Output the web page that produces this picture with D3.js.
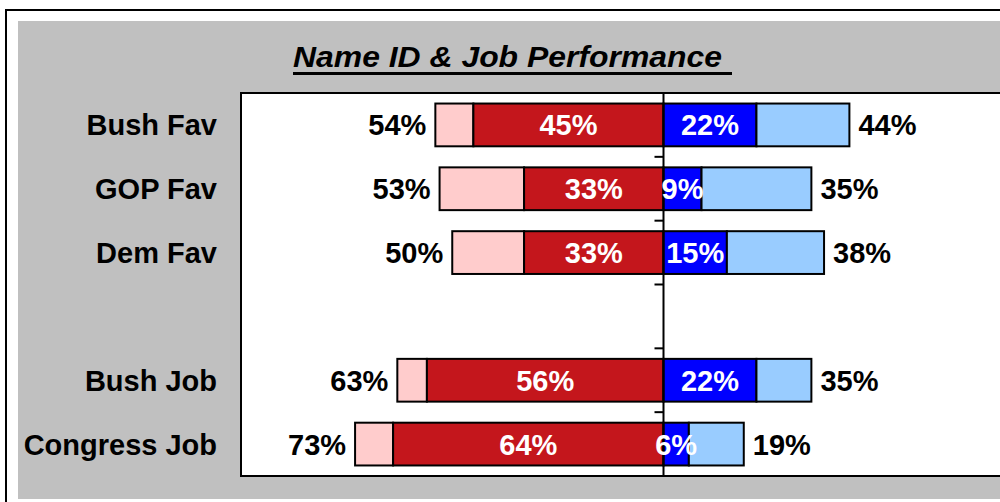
<!DOCTYPE html>
<html>
<head>
<meta charset="utf-8">
<script src="https://cdn.jsdelivr.net/npm/d3@7"></script>
<style>
  html, body { margin: 0; padding: 0; background: #ffffff; overflow: hidden; }
  svg { display: block; }
  text { font-family: "Liberation Sans", Arial, sans-serif; font-weight: bold; }
</style>
</head>
<body>
<svg id="chart" width="1000" height="502"></svg>
<script>
const title = "Name ID & Job Performance";
const categories = ["Bush Fav", "GOP Fav", "Dem Fav", "", "Bush Job", "Congress Job"];
const strongUnfav = [45, 33, 33, null, 56, 64];
const totalUnfav  = [54, 53, 50, null, 63, 73];
const strongFav   = [22, 9, 15, null, 22, 6];
const totalFav    = [44, 35, 38, null, 35, 19];

const rows = categories.map((c, i) => ({
  cat: c, sNeg: strongUnfav[i], tNeg: totalUnfav[i], sPos: strongFav[i], tPos: totalFav[i], key: "r" + i
}));

const svg = d3.select("#chart");
const colors = { lightRed: "#FFCCCC", darkRed: "#C4161C", blue: "#0000FF", lightBlue: "#99CCFF", gray: "#C0C0C0" };

// outer frame and gray panel
svg.append("rect").attr("x", 6).attr("y", 10).attr("width", 1100).attr("height", 600)
  .attr("fill", "#ffffff").attr("stroke", "#000").attr("stroke-width", 2);
svg.append("rect").attr("x", 18).attr("y", 21).attr("width", 1100).attr("height", 478)
  .attr("fill", colors.gray);

// title
svg.append("text").attr("x", 293).attr("y", 67)
  .attr("font-size", 29.5).attr("font-style", "italic")
  .attr("textLength", 429).attr("lengthAdjust", "spacingAndGlyphs")
  .attr("fill", "#000").text(title);
svg.append("line").attr("x1", 293).attr("x2", 732).attr("y1", 73.5).attr("y2", 73.5)
  .attr("stroke", "#000").attr("stroke-width", 3);

// scales
const plot = { left: 241, right: 1086, top: 93, bottom: 476 };
const x = d3.scaleLinear().domain([-100, 100]).range([plot.left, plot.right]);
const y = d3.scaleBand().domain(rows.map(r => r.key)).range([plot.top, plot.bottom])
  .paddingInner(0.33).paddingOuter(0.165);

// plot area
svg.append("rect").attr("x", plot.left).attr("y", plot.top)
  .attr("width", plot.right - plot.left).attr("height", plot.bottom - plot.top)
  .attr("fill", "#fff").attr("stroke", "#000").attr("stroke-width", 2);

const data = rows.filter(r => r.tNeg != null);
const segs = [];
data.forEach(r => {
  segs.push({ r, x0: -r.tNeg, x1: -r.sNeg, fill: colors.lightRed });
  segs.push({ r, x0: -r.sNeg, x1: 0, fill: colors.darkRed });
  segs.push({ r, x0: 0, x1: r.sPos, fill: colors.blue });
  segs.push({ r, x0: r.sPos, x1: r.tPos, fill: colors.lightBlue });
});

svg.append("g").selectAll("rect").data(segs).join("rect")
  .attr("x", d => x(d.x0)).attr("width", d => x(d.x1) - x(d.x0))
  .attr("y", d => y(d.r.key)).attr("height", y.bandwidth())
  .attr("fill", d => d.fill).attr("stroke", "#000").attr("stroke-width", 2);

// center axis with ticks
const step = y.step();
const boundaries = d3.range(1, rows.length + 1).map(i => plot.top + i * step);
const axisG = svg.append("g");
axisG.append("line").attr("x1", x(0)).attr("x2", x(0)).attr("y1", plot.top).attr("y2", plot.bottom + 1)
  .attr("stroke", "#000").attr("stroke-width", 2);
axisG.selectAll("line.tick").data(boundaries).join("line").attr("class", "tick")
  .attr("x1", x(0) - 9).attr("x2", x(0)).attr("y1", d => d).attr("y2", d => d)
  .attr("stroke", "#000").attr("stroke-width", 2);

// category labels
const fs = 29;
svg.append("g").selectAll("text").data(rows).join("text")
  .attr("x", 217).attr("y", d => y(d.key) + y.bandwidth() / 2).attr("dy", "0.36em")
  .attr("text-anchor", "end").attr("font-size", fs).attr("fill", "#000")
  .text(d => d.cat);

// value labels
svg.append("g").selectAll("text").data(data).join("text")
  .attr("x", d => x(-d.tNeg) - 9).attr("y", d => y(d.key) + y.bandwidth() / 2).attr("dy", "0.36em")
  .attr("text-anchor", "end").attr("font-size", fs).attr("fill", "#000").text(d => d.tNeg + "%");
svg.append("g").selectAll("text").data(data).join("text")
  .attr("x", d => x(d.tPos) + 9).attr("y", d => y(d.key) + y.bandwidth() / 2).attr("dy", "0.36em")
  .attr("text-anchor", "start").attr("font-size", fs).attr("fill", "#000").text(d => d.tPos + "%");
svg.append("g").selectAll("text").data(data).join("text")
  .attr("x", d => (x(-d.sNeg) + x(0)) / 2).attr("y", d => y(d.key) + y.bandwidth() / 2).attr("dy", "0.36em")
  .attr("text-anchor", "middle").attr("font-size", fs).attr("fill", "#fff").text(d => d.sNeg + "%");
svg.append("g").selectAll("text").data(data).join("text")
  .attr("x", d => (x(d.sPos) + x(0)) / 2).attr("y", d => y(d.key) + y.bandwidth() / 2).attr("dy", "0.36em")
  .attr("text-anchor", "middle").attr("font-size", fs).attr("fill", "#fff").text(d => d.sPos + "%");
</script>
</body>
</html>
